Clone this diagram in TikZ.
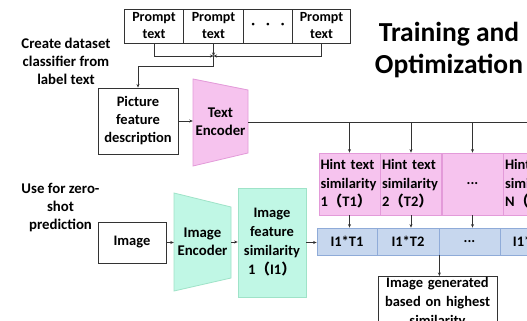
\documentclass[tikz,border=0pt]{standalone}
\usepackage{fontspec}
\setmainfont{Carlito}
\newfontfamily\cjk{Noto Sans CJK SC}
\usetikzlibrary{arrows.meta}
\definecolor{pinkfill}{HTML}{F6C3EE}
\definecolor{pinkdraw}{HTML}{E39AD9}
\definecolor{greenfill}{HTML}{C0F7E5}
\definecolor{greendraw}{HTML}{9FE3C8}
\definecolor{bluefill}{HTML}{C7D7EE}
\definecolor{bluedraw}{HTML}{8FABD8}
\newcommand{\fp}{{\cjk （}}
\newcommand{\fq}{{\cjk ）}}
\begin{document}
\begin{tikzpicture}[x=1pt,y=-1pt,
  box/.style={draw=black!80, line width=0.9pt, fill=white, inner sep=0pt, align=center,
    font=\bfseries\fontsize{14.5}{18}\selectfont},
  pbox/.style={box, minimum height=34, font=\bfseries\fontsize{14}{17}\selectfont},
  hint/.style={draw=pinkdraw, line width=0.8pt, fill=pinkfill, inner xsep=1.5pt, inner ysep=0pt,
    minimum height=62, text width=58, align=left, font=\bfseries\fontsize{14.5}{18.5}\selectfont},
  rowbox/.style={draw=bluedraw, line width=0.8pt, fill=bluefill, inner sep=0pt, minimum height=27,
    align=center, font=\bfseries\fontsize{14.5}{17}\selectfont},
  lbl/.style={align=center, inner sep=0pt, font=\bfseries\fontsize{14.8}{18}\selectfont},
  arr/.style={-{Stealth[length=3.5pt,width=3pt]}, line width=0.8pt, draw=black!80},
  ln/.style={line width=0.8pt, draw=black!80}]
\clip (0,0) rectangle (527,321);
\fill[white] (0,0) rectangle (527,321);

% prompt row
\node[pbox, minimum width=59] (p1) at (154,26) {Prompt\\text};
\node[pbox, minimum width=60] (p2) at (213.5,26) {Prompt\\text};
\node[pbox, minimum width=49] (p3) at (268,26) {·\hspace{11pt}·\hspace{11pt}·};
\node[pbox, minimum width=58] (p4) at (321.5,26) {Prompt\\text};
\coordinate (m) at (213.5,56);
\draw[arr] (p1.south) |- (m);
\draw[arr] (p4.south) |- (m);
\draw[arr] (p2.south) -- (m);

% labels
\node[lbl] (l1) at (66,61) {Create dataset\\classifier from\\label text};
\node[lbl] (l2) at (60.5,208) {Use for zero-\\shot\\prediction};
\node[align=center, inner sep=0pt, font=\bfseries\fontsize{27.5}{32}\selectfont] (title) at (449,50) {Training and\\Optimization};

% picture + text encoder
\node[box, minimum width=80, minimum height=66] (pic) at (138,121) {Picture\\feature\\description};
\draw[arr] (m) -- ++(0,10) -| (pic.north);
\draw[fill=pinkfill, draw=pinkdraw, line width=0.8pt] (193,79) -- (248,90) -- (248,153) -- (193,166) -- cycle;
\node[lbl, minimum width=55, minimum height=63] (te) at (220.5,122) {Text\\Encoder};
\draw[arr] (pic.east) -- (pic.east -| te.west);

% hint boxes
\node[hint] (h1) at (349.5,184) {Hint text\\similarity\\1\fp T1\fq};
\node[hint] (h2) at (411,184) {Hint text\\similarity\\2\fp T2\fq};
\node[hint, align=center] (h3) at (472.5,184) {...};
\node[hint] (h4) at (534,184) {Hint text\\similarity\\N\fp TN\fq};
\coordinate (lend) at (580,122);
\draw[ln] (te.east) -- (lend);
\foreach \h in {h1,h2,h3,h4} \draw[arr] (\h.north |- te.east) -- (\h.north);

% row boxes
\node[rowbox, minimum width=60] (r1) at (347,241.5) {I1*T1};
\node[rowbox, minimum width=62] (r2) at (408,241.5) {I1*T2};
\node[rowbox, minimum width=61] (r3) at (469.5,241.5) {...};
\node[rowbox, minimum width=61] (r4) at (530.5,241.5) {I1*TN};
\draw[arr] (h1.south) -- (h1.south |- r1.north);
\draw[arr] (h2.south) -- (h2.south |- r2.north);
\draw[arr] (h3.south) -- (h3.south |- r3.north);
\draw[arr] (h4.south) -- (h4.south |- r4.north);

% image path
\node[box, minimum width=68, minimum height=41] (img) at (132,242.5) {Image};
\draw[fill=greenfill, draw=greendraw, line width=0.8pt] (174,193) -- (231,207) -- (231,278) -- (174,291) -- cycle;
\node[lbl, minimum width=57, minimum height=71] (ie) at (202.5,242) {Image\\Encoder};
\node[draw=greendraw, line width=0.8pt, fill=greenfill, inner sep=0pt, minimum width=68, minimum height=109,
  align=center, font=\bfseries\fontsize{14.5}{19}\selectfont] (if) at (272,242.5) {Image\\feature\\similarity\\1\fp I1\fq};
\draw[arr] (img.east) -- (img.east -| ie.west);
\draw[arr] (ie.east) -- (ie.east -| if.west);
\draw[arr] (if.east) -- (if.east -| r1.west);

% output
\node[box, anchor=north, text width=119, inner xsep=0pt, inner ysep=1pt, font=\bfseries\fontsize{14.5}{19}\selectfont] (out) at (437.5,276)
  {Image generated\\based on highest\\similarity\\[6pt]};
\draw[arr] (r2.south east) -- (r2.south east |- out.north);
\end{tikzpicture}
\end{document}
